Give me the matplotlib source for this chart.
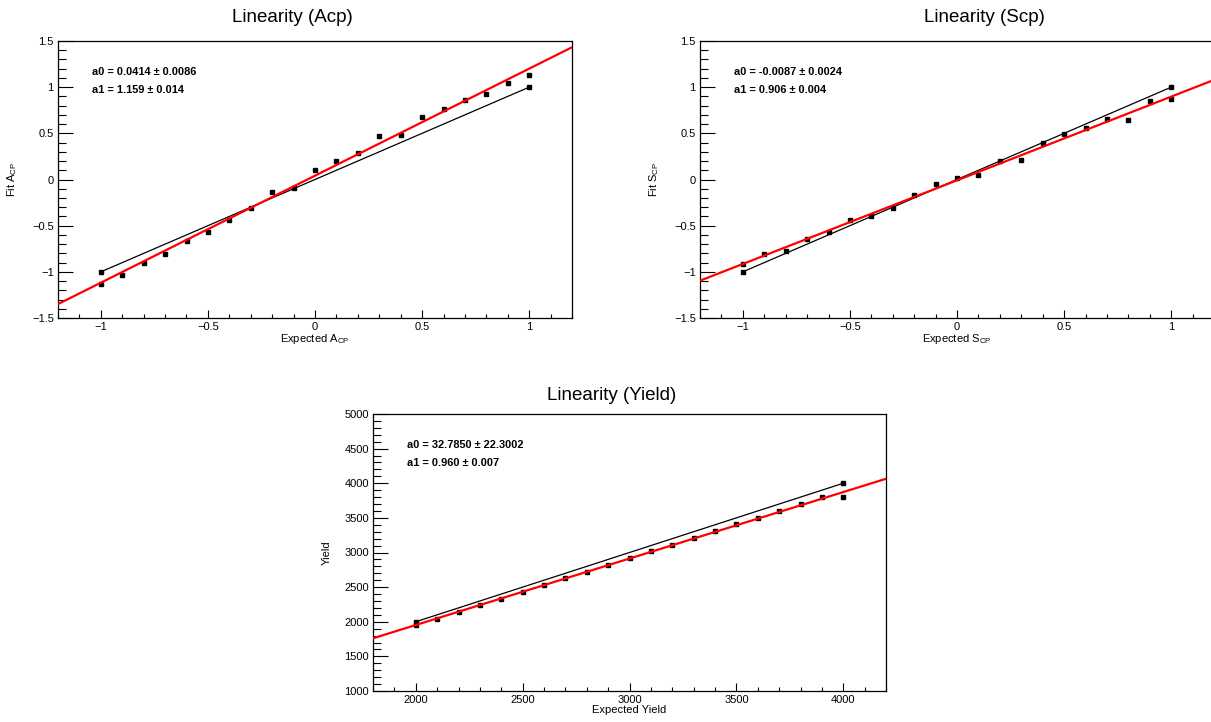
import numpy as np
import matplotlib
matplotlib.use('Agg')
import matplotlib.pyplot as plt
from matplotlib.ticker import MultipleLocator, FuncFormatter

plt.rcParams['font.family'] = ['Liberation Sans', 'DejaVu Sans']
plt.rcParams['mathtext.fontset'] = 'custom'
plt.rcParams['mathtext.rm'] = 'Liberation Sans'
plt.rcParams['mathtext.it'] = 'Liberation Sans:italic'

# valeurs attendues / ajustees
x_cp = [-1.0, -0.9, -0.8, -0.7, -0.6, -0.5, -0.4, -0.3, -0.2, -0.1, 0.0,
        0.1, 0.2, 0.3, 0.4, 0.5, 0.6, 0.7, 0.8, 0.9, 1.0]
fit_acp = [-1.135, -1.03, -0.90, -0.81, -0.67, -0.57, -0.44, -0.31, -0.13, -0.095, 0.10,
           0.20, 0.29, 0.47, 0.48, 0.68, 0.76, 0.86, 0.93, 1.05, 1.13]
fit_scp = [-0.92, -0.81, -0.77, -0.64, -0.57, -0.44, -0.39, -0.31, -0.17, -0.05, 0.02,
           0.045, 0.20, 0.21, 0.39, 0.49, 0.555, 0.65, 0.64, 0.85, 0.87]

x_yield = [2000, 2100, 2200, 2300, 2400, 2500, 2600, 2700, 2800, 2900, 3000,
           3100, 3200, 3300, 3400, 3500, 3600, 3700, 3800, 3900, 4000]
fit_yield = [1950, 2040, 2140, 2240, 2330, 2430, 2530, 2630, 2720, 2820, 2920,
             3020, 3110, 3210, 3310, 3410, 3500, 3600, 3700, 3800, 3800]

# parametres du fit lineaire (a0, a1) et erreurs
par_acp = (0.0414, 0.0086, 1.159, 0.014)
par_scp = (-0.0087, 0.0024, 0.906, 0.004)
par_yield = (32.7850, 22.3002, 0.960, 0.007)
txt_acp = ['a0 = 0.0414 \u00b1 0.0086', 'a1 = 1.159 \u00b1 0.014']
txt_scp = ['a0 = -0.0087 \u00b1 0.0024', 'a1 = 0.906 \u00b1 0.004']
txt_yield = ['a0 = 32.7850 \u00b1 22.3002', 'a1 = 0.960 \u00b1 0.007']


def fmt(v, pos):
    s = '%g' % round(v, 6)
    return s.replace('-', '\u2212')


def dessine(ax, x, y, par, textos, xlim, ylim, xmaj, xmin, ymaj, ymin, xlabel, ylabel, ylabelpad):
    # droite ideale y = x
    ax.plot([x[0], x[-1]], [x[0], x[-1]], color='black', lw=0.9, marker='s', ms=2.6, zorder=2)
    # points
    ax.plot(x, y, ls='none', marker='s', ms=2.6, color='black', zorder=3)
    # ajustement
    xx = np.array(xlim)
    ax.plot(xx, par[0] + par[2] * xx, color='red', lw=1.6, zorder=4)

    ax.set_xlim(xlim)
    ax.set_ylim(ylim)
    ax.xaxis.set_major_locator(MultipleLocator(xmaj))
    ax.xaxis.set_minor_locator(MultipleLocator(xmin))
    ax.yaxis.set_major_locator(MultipleLocator(ymaj))
    ax.yaxis.set_minor_locator(MultipleLocator(ymin))
    ax.xaxis.set_major_formatter(FuncFormatter(fmt))
    ax.yaxis.set_major_formatter(FuncFormatter(fmt))
    ax.tick_params(which='both', direction='in', top=False, right=False, labelsize=8, width=0.8)
    ax.tick_params(axis='y', which='major', length=11, pad=3)
    ax.tick_params(axis='y', which='minor', length=5.5)
    ax.tick_params(axis='x', which='major', length=6, pad=3)
    ax.tick_params(axis='x', which='minor', length=3)
    for s in ax.spines.values():
        s.set_linewidth(0.9)
    ax.set_xlabel(xlabel, fontsize=8, labelpad=0)
    ax.set_ylabel(ylabel, fontsize=8, labelpad=ylabelpad)
    ax.text(0.067, 0.888, textos[0], transform=ax.transAxes, fontsize=7.9, fontweight='bold', va='center')
    ax.text(0.067, 0.823, textos[1], transform=ax.transAxes, fontsize=7.9, fontweight='bold', va='center')


fig = plt.figure(figsize=(12.11, 7.22), dpi=100)

ax1 = fig.add_axes([58 / 1211, 1 - 318 / 722, 514 / 1211, 277 / 722])
ax2 = fig.add_axes([700 / 1211, 1 - 318 / 722, 514 / 1211, 277 / 722])
ax3 = fig.add_axes([373 / 1211, 1 - 691 / 722, 513 / 1211, 277 / 722])

dessine(ax1, x_cp, fit_acp, par_acp, txt_acp, (-1.2, 1.2), (-1.5, 1.5), 0.5, 0.1, 0.5, 0.1,
        'Expected A$_{\\rm CP}$', 'Fit A$_{\\rm CP}$', 9)
dessine(ax2, x_cp, fit_scp, par_scp, txt_scp, (-1.2, 1.2), (-1.5, 1.5), 0.5, 0.1, 0.5, 0.1,
        'Expected S$_{\\rm CP}$', 'Fit S$_{\\rm CP}$', 9)
dessine(ax3, x_yield, fit_yield, par_yield, txt_yield, (1800, 4200), (1000, 5000), 500, 100, 500, 100,
        'Expected Yield', 'Yield', 9)

fig.text(292 / 1211, 1 - 17 / 722, 'Linearity (Acp)', fontsize=13.5, ha='center', va='center')
fig.text(984 / 1211, 1 - 17 / 722, 'Linearity (Scp)', fontsize=13.5, ha='center', va='center')
fig.text(612 / 1211, 1 - 395 / 722, 'Linearity (Yield)', fontsize=13.5, ha='center', va='center')

fig.savefig('out.png', dpi=100)
